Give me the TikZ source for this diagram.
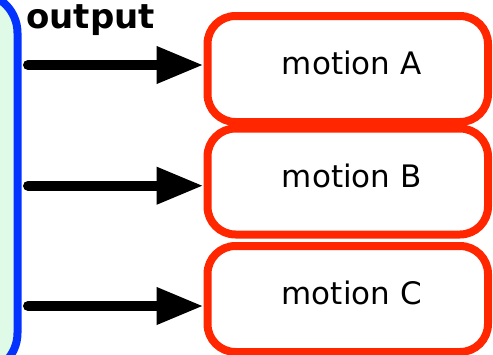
\documentclass[tikz,border=0pt]{standalone}
\usepackage{fontspec}
\setmainfont{DejaVu Sans}
\usetikzlibrary{arrows.meta}
\definecolor{boxred}{HTML}{FF2600}
\definecolor{panelblue}{HTML}{0433FF}
\definecolor{panelfill}{HTML}{E0FAE8}
\begin{document}
\begin{tikzpicture}[x=1pt,y=-1pt,
  motionbox/.style={draw=boxred, line width=8pt, rounded corners=28pt, fill=white,
    minimum width=280.5pt, minimum height=106pt, inner sep=0pt,
    font=\fontsize{31}{36}\selectfont, text height=23pt, text depth=12pt,
    execute at begin node={\hspace*{8pt}}},
  flow/.style={line width=10pt, line cap=round, -{Triangle[length=47pt,width=35pt]}}]
\useasboundingbox (0,0) rectangle (493,354);
\clip (0,0) rectangle (493,354);
% source panel on the left edge
\draw[draw=panelblue, fill=panelfill, line width=8pt, rounded corners=40pt]
  (-100,-7) rectangle (17.5,373);
\node[anchor=base west, inner sep=0pt, font=\bfseries\fontsize{34}{40}\selectfont]
  (outlabel) at (26,28.3) {output};
% targets
\node[motionbox] (mA) at (347.75,69) {motion A};
\node[motionbox] (mB) at (347.75,181.5) {motion B};
\node[motionbox] (mC) at (347.75,299) {motion C};
% outputs
\coordinate (sA) at (28,65);
\coordinate (sB) at (28,185.7);
\coordinate (sC) at (28,306);
\draw[flow] (sA) -- (sA -| mA.west);
\draw[flow] (sB) -- (sB -| mB.west);
\draw[flow] (sC) -- (sC -| mC.west);
\end{tikzpicture}
\end{document}
